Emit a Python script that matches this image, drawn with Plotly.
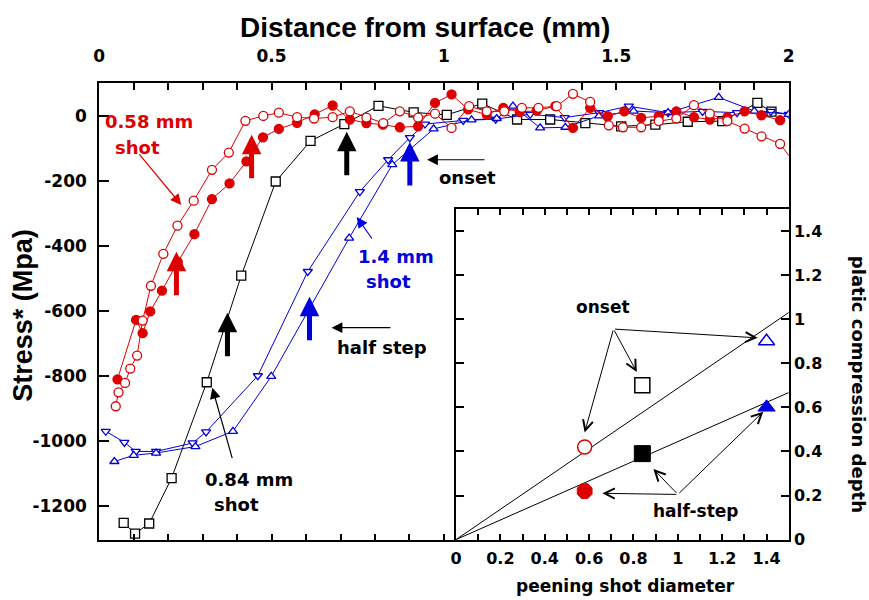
import plotly.graph_objects as go

RED = '#dd0000'
BLUE = '#0000dd'
BLACK = '#000000'
FT = 'Liberation Sans, Arial, sans-serif'
FD = 'DejaVu Sans, Verdana, sans-serif'

# ---------------- main chart data (distance mm, stress MPa) ----------------
x58_open = [0.048, 0.056, 0.075, 0.090, 0.110, 0.126, 0.150, 0.186, 0.227, 0.274,
            0.327, 0.376, 0.424, 0.476, 0.521, 0.574, 0.623, 0.677, 0.727, 0.775,
            0.824, 0.872, 0.925, 0.974, 1.022, 1.073, 1.124, 1.175, 1.226, 1.274,
            1.327, 1.374, 1.424, 1.478, 1.519, 1.572, 1.623, 1.674, 1.725, 1.771,
            1.822, 1.872, 1.921, 1.975, 2.02]
y58_open = [-894, -851, -822, -778, -738, -630, -523, -425, -338, -261,
            -166, -113, -15, 0, 10, -4, -8, -4, 14, -5,
            -22, 14, -5, 7, -37, 30, 14, 14, 25, 25,
            30, 68, 43, -29, -35, -35, -16, -8, 33, 7,
            -16, -39, -63, -86, -150]

x58_fill = [0.053, 0.107, 0.126, 0.148, 0.182, 0.228, 0.276, 0.327, 0.378, 0.427,
            0.475, 0.521, 0.574, 0.625, 0.677, 0.727, 0.775, 0.823, 0.872, 0.925,
            0.974, 1.022, 1.07, 1.124, 1.172, 1.22, 1.269, 1.323, 1.374, 1.424,
            1.475, 1.523, 1.572, 1.623, 1.674, 1.725, 1.771, 1.822, 1.872, 1.921,
            1.975]
y58_fill = [-811, -628, -669, -602, -538, -450, -364, -256, -208, -140,
            -66, -40, -21, 5, 32, -11, -22, -27, -35, -32,
            40, 66, 20, 4, 25, 12, 16, 30, -37, 25,
            -1, 14, -6, -1, 14, -4, -11, -4, 14, 2,
            -13]

x84 = [0.071, 0.104, 0.145, 0.210, 0.312, 0.412, 0.512, 0.613, 0.711, 0.810,
       0.912, 1.008, 1.111, 1.212, 1.308, 1.410, 1.514, 1.613, 1.707, 1.807,
       1.909, 1.950]
y84 = [-1253, -1286, -1255, -1115, -820, -492, -202, -77, -25, 31,
       11, 3, 38, -11, -11, -22, -32, -27, -18, -16,
       40, 13]

x14_down = [0.019, 0.073, 0.106, 0.165, 0.271, 0.310, 0.460, 0.605, 0.756, 0.838,
            0.901, 0.945, 1.056, 1.15, 1.25, 1.35, 1.45, 1.536, 1.65, 1.75,
            1.85, 1.948, 2.0]
y14_down = [-971, -1005, -1033, -1033, -1007, -973, -800, -479, -233, -135,
            -67, -25, -14, -10, 5, -5, 10, 30, 10, 14,
            10, 14, 5]

x14_up = [0.044, 0.100, 0.165, 0.279, 0.388, 0.499, 0.725, 0.85, 0.97, 1.08,
          1.153, 1.2, 1.279, 1.352, 1.45, 1.55, 1.65, 1.797, 1.90, 2.0]
y14_up = [-1064, -1045, -1038, -1018, -971, -802, -376, -150, -40, -12,
          -8, 30, -37, -35, 0, 15, 10, 57, 15, 5]

# onset / half-step arrow markers in the main chart (tip positions)
arrow_onset_x = [0.442, 0.718, 0.901]
arrow_onset_y = [-58, -49, -80]
arrow_half_x = [0.224, 0.372, 0.610]
arrow_half_y = [-418, -606, -557]
arrow_colors = [RED, BLACK, BLUE]

# ---------------- inset data ----------------
shot_diam = [0.58, 0.84, 1.40]
onset_depth = [0.42, 0.70, 0.90]
half_depth = [0.22, 0.39, 0.60]
fit_x = [0, 1.5]
fit_onset = [0, 1.03]
fit_half = [0, 0.667]

x_ticks_main = [i / 10 for i in range(21)]
x_text_main = ['0', '', '', '', '', '0.5', '', '', '', '', '1', '', '', '', '', '1.5', '', '', '', '', '2']
y_ticks_main = [-1200, -1000, -800, -600, -400, -200, 0]
y_text_main = ['-1200', '-1000', '-800', '-600', '-400', '-200', '0']
x_ticks_bottom = [i / 10 for i in range(1, 11)]
x_ticks_inset = [i / 10 for i in range(16)]
x_text_inset = ['0', '', '0.2', '', '0.4', '', '0.6', '', '0.8', '', '1', '', '1.2', '', '1.4', '']
y_ticks_inset = [0, 0.2, 0.4, 0.6, 0.8, 1.0, 1.2, 1.4]
y_text_inset = ['0', '0.2', '0.4', '0.6', '0.8', '1', '1.2', '1.4']

fig = go.Figure()

def line_trace(x, y, color, symbol, fill, size, xa='x', ya='y'):
    return go.Scatter(x=x, y=y, mode='lines+markers', xaxis=xa, yaxis=ya,
                      line=dict(color=color, width=1),
                      marker=dict(symbol=symbol, size=size, color=fill, opacity=1,
                                  line=dict(color=color, width=1.3)),
                      showlegend=False, hoverinfo='skip')

fig.add_trace(line_trace(x84, y84, BLACK, 'square', 'white', 9))
fig.add_trace(line_trace(x14_down, y14_down, BLUE, 'triangle-down', 'white', 8))
fig.add_trace(line_trace(x14_up, y14_up, BLUE, 'triangle-up', 'white', 8))
fig.add_trace(line_trace(x58_fill, y58_fill, RED, 'circle', RED, 9))
fig.add_trace(line_trace(x58_open, y58_open, RED, 'circle', 'white', 9))

# bottom tick axis helper
fig.add_trace(go.Scatter(x=[None], y=[None], xaxis='x3', yaxis='y', showlegend=False, hoverinfo='skip'))

# inset
fig.add_trace(go.Scatter(x=fit_x, y=fit_onset, mode='lines', xaxis='x2', yaxis='y2',
                         line=dict(color=BLACK, width=1), showlegend=False, hoverinfo='skip'))
fig.add_trace(go.Scatter(x=fit_x, y=fit_half, mode='lines', xaxis='x2', yaxis='y2',
                         line=dict(color=BLACK, width=1), showlegend=False, hoverinfo='skip'))
fig.add_trace(go.Scatter(x=shot_diam, y=onset_depth, mode='markers', xaxis='x2', yaxis='y2',
                         marker=dict(symbol=['circle', 'square', 'triangle-up'], size=[14, 15, 14],
                                     color='white', opacity=1,
                                     line=dict(color=[RED, BLACK, BLUE], width=1.5)),
                         showlegend=False, hoverinfo='skip'))
fig.add_trace(go.Scatter(x=shot_diam, y=half_depth, mode='markers', xaxis='x2', yaxis='y2',
                         marker=dict(symbol=['octagon', 'square', 'triangle-up'], size=[16, 16, 15],
                                     color=[RED, BLACK, BLUE], opacity=1,
                                     line=dict(color=[RED, BLACK, BLUE], width=1)),
                         showlegend=False, hoverinfo='skip'))

W, H = 869, 600
K = 0.984   # observed render scale
OX = 7      # observed horizontal offset

def px(x):
    return (x - OX) / K / W
def py(y):
    return 1 - (y / K) / H

tickfont = dict(family=FD, size=17, color=BLACK, weight='bold')
insetfont = dict(family=FD, size=16, color=BLACK, weight='bold')

fig.update_layout(
    width=W, height=H, margin=dict(l=0, r=0, t=0, b=0),
    paper_bgcolor='white', plot_bgcolor='white', showlegend=False,
    xaxis=dict(domain=[px(100), px(788)], range=[0, 2], side='top', anchor='y',
               tickvals=x_ticks_main, ticktext=x_text_main, ticks='inside', ticklen=7,
               tickwidth=1.5, tickcolor=BLACK, showline=True, linewidth=2, linecolor=BLACK,
               mirror=True, showgrid=False, zeroline=False, tickfont=tickfont,
               ticklabelstandoff=12),
    xaxis3=dict(overlaying='x', anchor='y', side='bottom', range=[0, 2],
                tickvals=x_ticks_bottom, ticks='inside', ticklen=6, tickwidth=1.5,
                tickcolor=BLACK, showticklabels=False, showline=False,
                showgrid=False, zeroline=False),
    yaxis=dict(domain=[py(540), py(83)], range=[-1304.6, 101.5], anchor='x',
               tickvals=y_ticks_main, ticktext=y_text_main, ticks='inside', ticklen=10,
               tickwidth=1.5, tickcolor=BLACK, showline=True, linewidth=2, linecolor=BLACK,
               mirror=True, showgrid=False, zeroline=False, tickfont=tickfont,
               ticklabelstandoff=7),
    xaxis2=dict(domain=[px(456), px(788)], range=[0, 1.5], anchor='y2',
                tickvals=x_ticks_inset, ticktext=x_text_inset, ticks='inside', ticklen=6,
                tickwidth=1.5, tickcolor=BLACK, showline=True, linewidth=2, linecolor=BLACK,
                mirror='ticks', showgrid=False, zeroline=False, tickfont=insetfont,
                ticklabelstandoff=3),
    yaxis2=dict(domain=[py(540), py(209)], range=[0, 1.5], anchor='x2', side='right',
                tickvals=y_ticks_inset, ticktext=y_text_inset, ticks='inside', ticklen=8,
                tickwidth=1.5, tickcolor=BLACK, showline=True, linewidth=2, linecolor=BLACK,
                mirror='ticks', showgrid=False, zeroline=False, tickfont=insetfont),
)

ann = []
def text(x, y, s, color=BLACK, size=18, fam=FD, angle=0):
    ann.append(dict(x=px(x), y=py(y), xref='paper', yref='paper', text=s, showarrow=False,
                    xanchor='center', yanchor='middle', textangle=angle, borderpad=0,
                    font=dict(family=fam, size=size, color=color, weight='bold')))

text(425, 28, 'Distance from surface (mm)', size=28, fam=FT)
text(24, 316, 'Stress* (Mpa)', size=27, fam=FT, angle=-90)
text(625, 586, 'peening shot diameter', size=17)
text(857, 385, 'platic compression depth', size=18, angle=90)

text(150, 122, '0.58 mm', color=RED)
text(138, 148, 'shot', color=RED)
text(467, 178, 'onset')
text(382, 348, 'half step')
text(396, 257, '1.4 mm', color=BLUE)
text(389, 282, 'shot', color=BLUE)
text(249, 480, '0.84 mm')
text(237, 505, 'shot')
text(603, 307, 'onset', size=17)
text(695, 511, 'half-step', size=17)

# thick onset / half-step arrows
for xs, ys in ((arrow_onset_x, arrow_onset_y), (arrow_half_x, arrow_half_y)):
    for xv, yv, c in zip(xs, ys, arrow_colors):
        ann.append(dict(x=xv, y=yv, xref='x', yref='y', ax=0, ay=45, showarrow=True,
                        arrowhead=2, arrowsize=0.78, arrowwidth=5, arrowcolor=c, text=''))

def arrow(x, y, tx, ty, c=BLACK, w=1.2, size=1.8, head=2, xr='x', yr='y'):
    ann.append(dict(x=x, y=y, ax=tx, ay=ty, xref=xr, yref=yr, axref=xr, ayref=yr,
                    showarrow=True, arrowhead=head, arrowsize=size, arrowwidth=w,
                    arrowcolor=c, text=''))

# labels' pointer arrows in main chart
arrow(0.238, -274, 0.113, -114, RED)
arrow(0.951, -135, 1.122, -135)
arrow(0.674, -652, 0.849, -652)
arrow(0.747, -311, 0.794, -382, BLUE)
arrow(0.328, -837, 0.387, -1058)

# inset pointer arrows
for hx, hy in ((0.58, 0.486), (0.815, 0.76), (1.36, 0.915)):
    arrow(hx, hy, 0.71, 0.955, w=1, size=2, head=5, xr='x2', yr='y2')
for hx, hy in ((0.66, 0.21), (0.89, 0.32), (1.385, 0.58)):
    arrow(hx, hy, 1.0, 0.205, w=1, size=2, head=5, xr='x2', yr='y2')

fig.update_layout(annotations=ann)
fig.write_html('out.html')
